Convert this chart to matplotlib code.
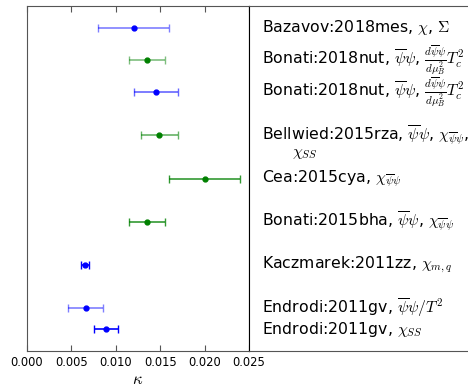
import matplotlib
matplotlib.use("Agg")
from matplotlib import pyplot as plt

plt.rcParams['mathtext.fontset'] = 'cm'

# data, listed top to bottom
labels = [
    r"Bazavov:2018mes, $\chi$, $\Sigma$",
    r"Bonati:2018nut, $\overline{\psi}\psi$, $\frac{d\overline{\psi}\psi}{d\mu_B^2}T_c^2$",
    r"Bonati:2018nut, $\overline{\psi}\psi$, $\frac{d\overline{\psi}\psi}{d\mu_B^2}T_c^2$",
    "Bellwied:2015rza, $\\overline{\\psi}\\psi$, $\\chi_{\\overline{\\psi}\\psi}$,\n"
    "      $\\chi_{SS}$",
    r"Cea:2015cya, $\chi_{\overline{\psi}\psi}$",
    r"Bonati:2015bha, $\overline{\psi}\psi$, $\chi_{\overline{\psi}\psi}$",
    r"Kaczmarek:2011zz, $\chi_{m,q}$",
    r"Endrodi:2011gv, $\overline{\psi}\psi/T^2$",
    r"Endrodi:2011gv, $\chi_{SS}$",
]
ypos = [14, 12.5, 11, 9, 7, 5, 3, 1, 0]
kappa = [0.0120, 0.0135, 0.0145, 0.0149, 0.0200, 0.0135, 0.00655, 0.0066, 0.0089]
err = [0.0040, 0.0020, 0.0025, 0.0021, 0.0040, 0.0020, 0.00048, 0.0020, 0.0014]
colors = ['b', 'g', 'b', 'g', 'g', 'g', 'b', 'b', 'b']
alphas = [0.5, 0.5, 0.6, 0.6, 0.8, 0.8, 1.0, 0.5, 1.0]

fig = plt.figure(figsize=(4.68, 3.88), dpi=100)
ax = fig.add_axes([0.0577, 0.0954, 0.4744, 0.889])
ax2 = fig.add_axes([0.532, 0.0954, 0.55, 0.889])

for x, y, e, c, a in zip(kappa, ypos, err, colors, alphas):
    ax.errorbar(x, y, xerr=e, fmt='none', ecolor=c, alpha=a,
                capsize=3, elinewidth=1.2)
    ax.plot(x, y, 'o', color=c, markersize=3.5)

ax.set_xlim(0, 0.025)
ax.set_ylim(-1, 15)
ax.set_yticks([])
ax.set_xticks([0.0, 0.005, 0.010, 0.015, 0.020, 0.025])
ax.set_xticklabels(["0.000", "0.005", "0.010", "0.015", "0.020", "0.025"])
ax.tick_params(axis='x', direction='in', top=True, labelsize=8.3, length=4,
               color='#555555')
for s in ax.spines.values():
    s.set_color('#555555')
ax.set_xlabel(r"$\kappa$", fontsize=12, labelpad=1)

ax2.set_xlim(0, 1)
ax2.set_ylim(-1, 15)
ax2.set_xticks([])
ax2.set_yticks([])
for s in ax2.spines.values():
    s.set_color('#555555')
ax2.spines['left'].set_color('black')
for lab, y in zip(labels, ypos):
    for i, line in enumerate(lab.split("\n")):
        ax2.annotate(line, (0.05, y), xytext=(0, -13 * i),
                     textcoords='offset points',
                     ha='left', va='center', fontsize=11.3)

fig.savefig("out.png", dpi=100)
